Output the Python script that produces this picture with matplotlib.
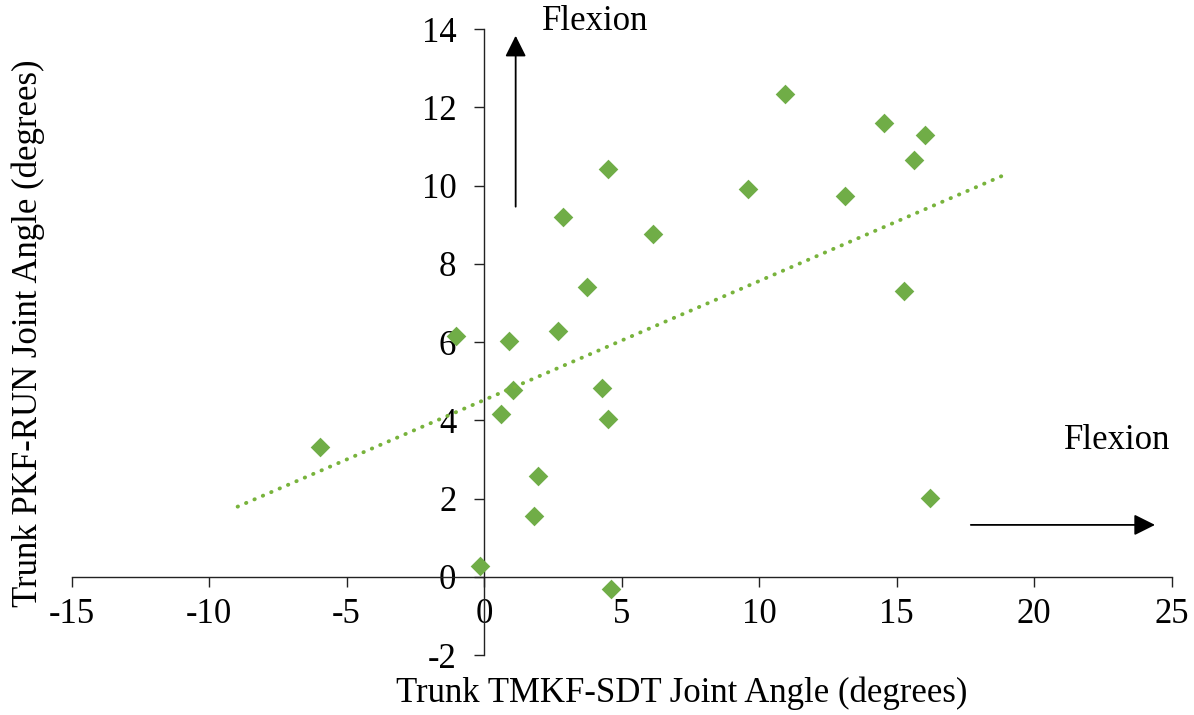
import numpy as np
import matplotlib.pyplot as plt

plt.rcParams['font.family'] = ['Liberation Serif', 'DejaVu Serif']
plt.rcParams['font.size'] = 25
plt.rcParams['axes.unicode_minus'] = False

# Trunk joint angles (degrees)
tmkf_sdt = [-1.02, 0.92, 2.68, 1.07, 0.62, 4.28, 4.52, 1.95, 1.80, -0.15, 4.62, -5.95,
            4.52, 2.87, 6.16, 3.73, 10.95, 14.56, 16.04, 15.65, 9.61, 13.13, 15.28, 16.23]
pkf_run = [6.16, 6.02, 6.29, 4.78, 4.17, 4.84, 4.03, 2.57, 1.56, 0.28, -0.31, 3.31,
           10.43, 9.20, 8.76, 7.41, 12.35, 11.59, 11.28, 10.65, 9.92, 9.74, 7.31, 2.03]

# linear trendline (slope, intercept, x range)
trend_coef = [0.304, 4.52]
trend_x = [-8.96, 19.07]

x_ticks = [-15, -10, -5, 0, 5, 10, 15, 20, 25]
y_ticks = [-2, 0, 2, 4, 6, 8, 10, 12, 14]

verde = '#70ad47'

fig = plt.figure(figsize=(11.94, 7.15), dpi=100)
ax = fig.add_axes([0.0599, 0.0836, 0.9213, 0.8758])

ax.scatter(tmkf_sdt, pkf_run, marker='D', s=100, color=verde, linewidths=0, zorder=3)

xt = np.array(trend_x)
ax.plot(xt, np.polyval(trend_coef, xt), color='#78b33c', linewidth=2.8,
        linestyle=(0, (0.1, 2.25)), dash_capstyle='round', zorder=4)

ax.set_xlim(-15, 25)
ax.set_ylim(-2, 14)
ax.set_xticks(x_ticks)
ax.set_yticks(y_ticks)

ax.spines['left'].set_position(('data', 0))
ax.spines['bottom'].set_position(('data', 0))
ax.spines['right'].set_visible(False)
ax.spines['top'].set_visible(False)
for s in ['left', 'bottom']:
    ax.spines[s].set_linewidth(1.0)
    ax.spines[s].set_color('#222222')

ax.tick_params(axis='x', direction='out', length=7, width=1.0, pad=8, color='#222222')
ax.tick_params(axis='y', direction='out', length=7, width=1.0, pad=13, color='#222222')

# flexion arrows
ax.annotate('', xy=(1.15, 13.9), xytext=(1.15, 9.39),
            arrowprops=dict(arrowstyle='-|>', color='black', lw=1.3, mutation_scale=32),
            annotation_clip=False)
ax.annotate('', xy=(24.5, 1.33), xytext=(17.6, 1.33),
            arrowprops=dict(arrowstyle='-|>', color='black', lw=1.3, mutation_scale=32),
            annotation_clip=False)
ax.text(2.1, 14.2, 'Flexion', va='center', ha='left', clip_on=False)
ax.text(21.1, 3.48, 'Flexion', va='center', ha='left')

fig.text(0.571, 0.031, 'Trunk TMKF-SDT Joint Angle (degrees)', ha='center', va='center')
fig.text(0.0235, 0.534, 'Trunk PKF-RUN Joint Angle (degrees)', ha='center', va='center',
         rotation=90)

plt.savefig('out.png', dpi=100)
